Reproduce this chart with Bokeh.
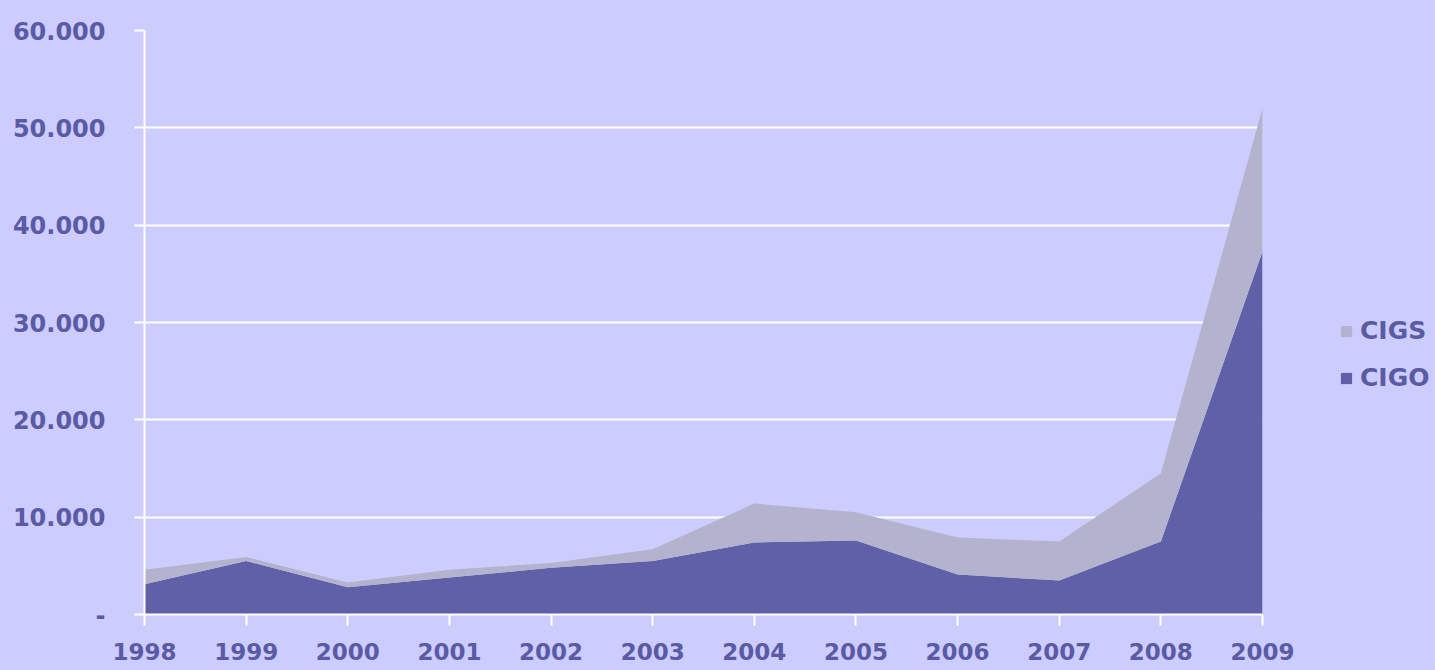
from bokeh.plotting import figure
from bokeh.layouts import row
from bokeh.models import FixedTicker, Legend, LegendItem, Range1d
from bokeh.embed import file_html
from bokeh.resources import INLINE

years = [1998, 1999, 2000, 2001, 2002, 2003, 2004, 2005, 2006, 2007, 2008, 2009]
cigo = [3100, 5500, 2800, 3800, 4800, 5500, 7400, 7600, 4100, 3500, 7500, 37300]
cigs = [1500, 400, 500, 800, 500, 1200, 4000, 2900, 3800, 4000, 7000, 14700]
y_ticks = [0, 10000, 20000, 30000, 40000, 50000, 60000]
y_labels = ["-", "10.000", "20.000", "30.000", "40.000", "50.000", "60.000"]

BG = "#CCCCFF"
TXT = "#5A5AA5"
C_CIGO = "#6060A8"
C_CIGS = "#B3B3CE"
FONT = "DejaVu Sans"

p = figure(width=1300, height=670, output_backend="svg", toolbar_location=None,
           x_range=Range1d(1998, 2009), y_range=Range1d(0, 60000),
           min_border_left=144, min_border_right=38, min_border_top=30, min_border_bottom=56)
p.background_fill_color = BG
p.border_fill_color = BG
p.outline_line_color = None

src = dict(x=years, CIGO=cigo, CIGS=cigs)
rs = p.varea_stack(stackers=["CIGO", "CIGS"], x="x", color=[C_CIGO, C_CIGS], source=src)

# axes
xa = p.xaxis[0]
xa.ticker = FixedTicker(ticks=years)
xa.axis_line_color = "white"
xa.axis_line_width = 2
xa.major_tick_line_color = "white"
xa.major_tick_line_width = 2
xa.major_tick_out = 11
xa.major_tick_in = 0
xa.minor_tick_line_color = None
xa.major_label_text_font = FONT
xa.major_label_text_font_style = "bold"
xa.major_label_text_font_size = "23px"
xa.major_label_text_color = TXT
xa.major_label_standoff = 17

ya = p.yaxis[0]
ya.ticker = FixedTicker(ticks=y_ticks)
ya.major_label_overrides = {t: l for t, l in zip(y_ticks, y_labels)}
ya.axis_line_color = "white"
ya.axis_line_width = 2
ya.major_tick_line_color = "white"
ya.major_tick_line_width = 2
ya.major_tick_out = 10
ya.major_tick_in = 0
ya.minor_tick_line_color = None
ya.major_label_text_font = FONT
ya.major_label_text_font_style = "bold"
ya.major_label_text_font_size = "24px"
ya.major_label_text_color = TXT
ya.major_label_standoff = 29

p.xgrid.grid_line_color = None
p.ygrid.grid_line_color = "white"
p.ygrid.grid_line_width = 2
p.ygrid.ticker = FixedTicker(ticks=y_ticks)

# legend panel (separate figure to the right; its glyphs lie outside its ranges)
lp = figure(width=135, height=670, output_backend="svg", toolbar_location=None,
            x_range=Range1d(3000, 3001), y_range=Range1d(0, 60000),
            x_axis_location=None, y_axis_location=None,
            min_border_left=0, min_border_right=0, min_border_top=0, min_border_bottom=0)
lp.background_fill_color = None
lp.border_fill_color = BG
lp.outline_line_color = None
lp.grid.grid_line_color = None
lrs = lp.varea_stack(stackers=["CIGO", "CIGS"], x="x", color=[C_CIGO, C_CIGS], source=src)

legend = Legend(items=[LegendItem(label="CIGS", renderers=[lrs[1]]),
                       LegendItem(label="CIGO", renderers=[lrs[0]])],
                location=(39, 222))
legend.background_fill_alpha = 0
legend.border_line_color = None
legend.padding = 0
legend.margin = 0
legend.glyph_width = 14
legend.glyph_height = 14
legend.label_standoff = 7
legend.label_text_font = FONT
legend.label_text_font_style = "bold"
legend.label_text_font_size = "25px"
legend.label_text_color = TXT
legend.spacing = 18
lp.add_layout(legend)

layout = row(p, lp, spacing=0, styles={"background-color": BG})
open("out.html", "w").write(file_html(layout, INLINE))
